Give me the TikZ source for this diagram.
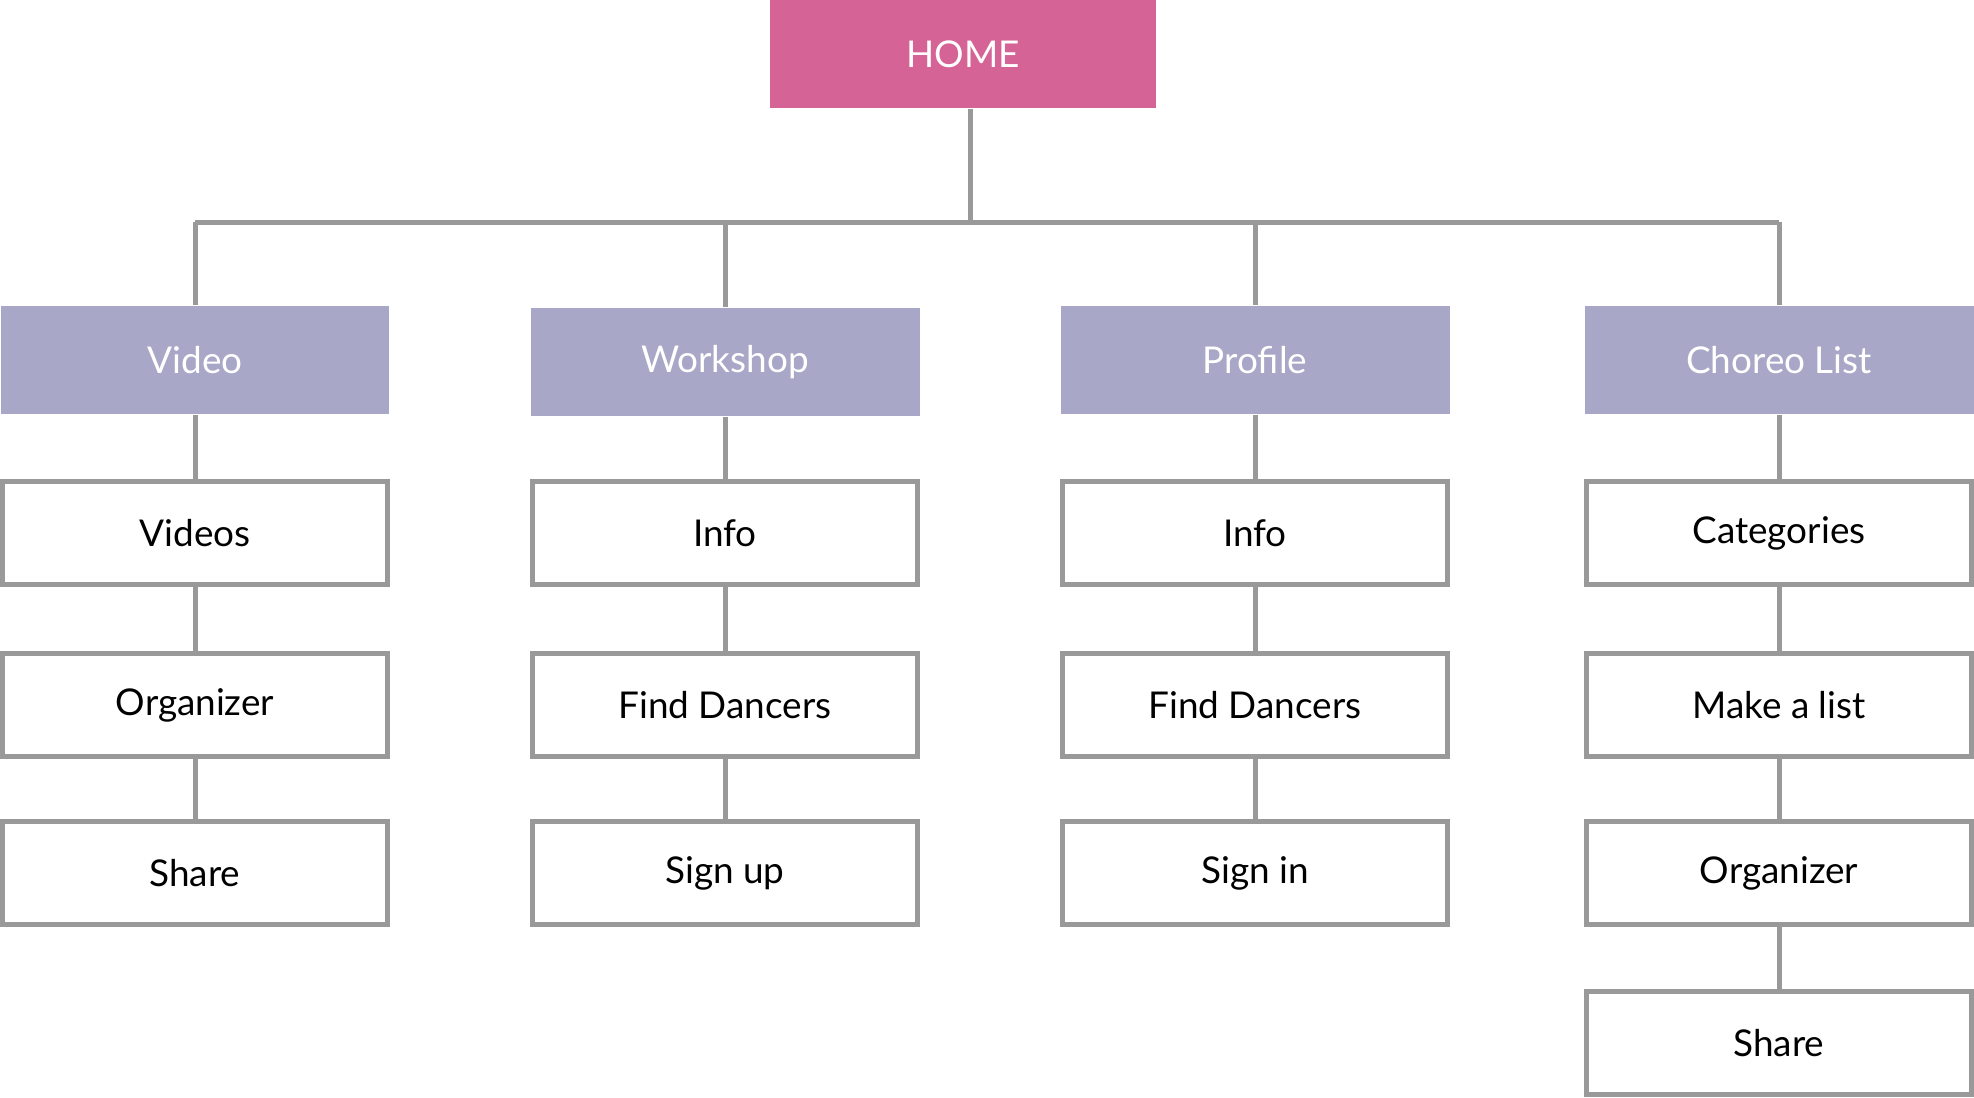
\documentclass[tikz,border=0pt]{standalone}
\usepackage{fontspec}
\setmainfont{Lato}
\definecolor{homepink}{HTML}{D56396}
\definecolor{sectlav}{HTML}{A8A7C7}
\definecolor{linkgray}{HTML}{999999}
\tikzset{
  home/.style={fill=homepink,text=white,minimum width=38.6mm,minimum height=10.8mm,inner sep=0pt,font=\fontsize{10.5}{12}\selectfont},
  section/.style={fill=sectlav,text=white,minimum width=38.9mm,minimum height=10.8mm,inner sep=0pt,font=\fontsize{10.5}{12}\selectfont},
  page/.style={draw=linkgray,line width=0.5mm,fill=white,minimum width=38.5mm,minimum height=10.3mm,inner sep=0pt,font=\fontsize{10.5}{12}\selectfont},
  link/.style={draw=linkgray,line width=0.5mm}
}
\begin{document}
\begin{tikzpicture}[x=0.1mm,y=-0.1mm]
  \useasboundingbox (0,0) rectangle (1974,1098);
  \node[home] (home) at (963,54) {HOME};
  \coordinate (bus) at (970,222);
  % sections
  \node[section] (video) at (195,360) {Video};
  \node[section] (workshop) at (725,362) {Workshop};
  \node[section] (profile) at (1255,360) {Profile};
  \node[section] (choreo) at (1779,360) {Choreo List};
  \draw[link] (home.south -| bus) -- (bus);
  \draw[link] (bus -| video) -- (bus -| choreo);
  \foreach \s in {video,workshop,profile,choreo}
    \draw[link] (bus -| \s) -- (\s);
  % pages below each section
  \foreach \s/\x/\a/\b/\c in {video/195/Videos/Organizer/Share,
                          workshop/725/Info/Find Dancers/Sign up,
                          profile/1255/Info/Find Dancers/Sign in,
                          choreo/1779/Categories/Make a list/Organizer} {
    \node[page] (\s-a) at (\x,533) {\a};
    \node[page] (\s-b) at (\x,705) {\b};
    \node[page] (\s-c) at (\x,873) {\c};
    \draw[link] (\s) -- (\s-a);
    \draw[link] (\s-a) -- (\s-b);
    \draw[link] (\s-b) -- (\s-c);
  }
  \node[page] (choreo-d) at (1779,1043) {Share};
  \draw[link] (choreo-c) -- (choreo-d);
\end{tikzpicture}
\end{document}
